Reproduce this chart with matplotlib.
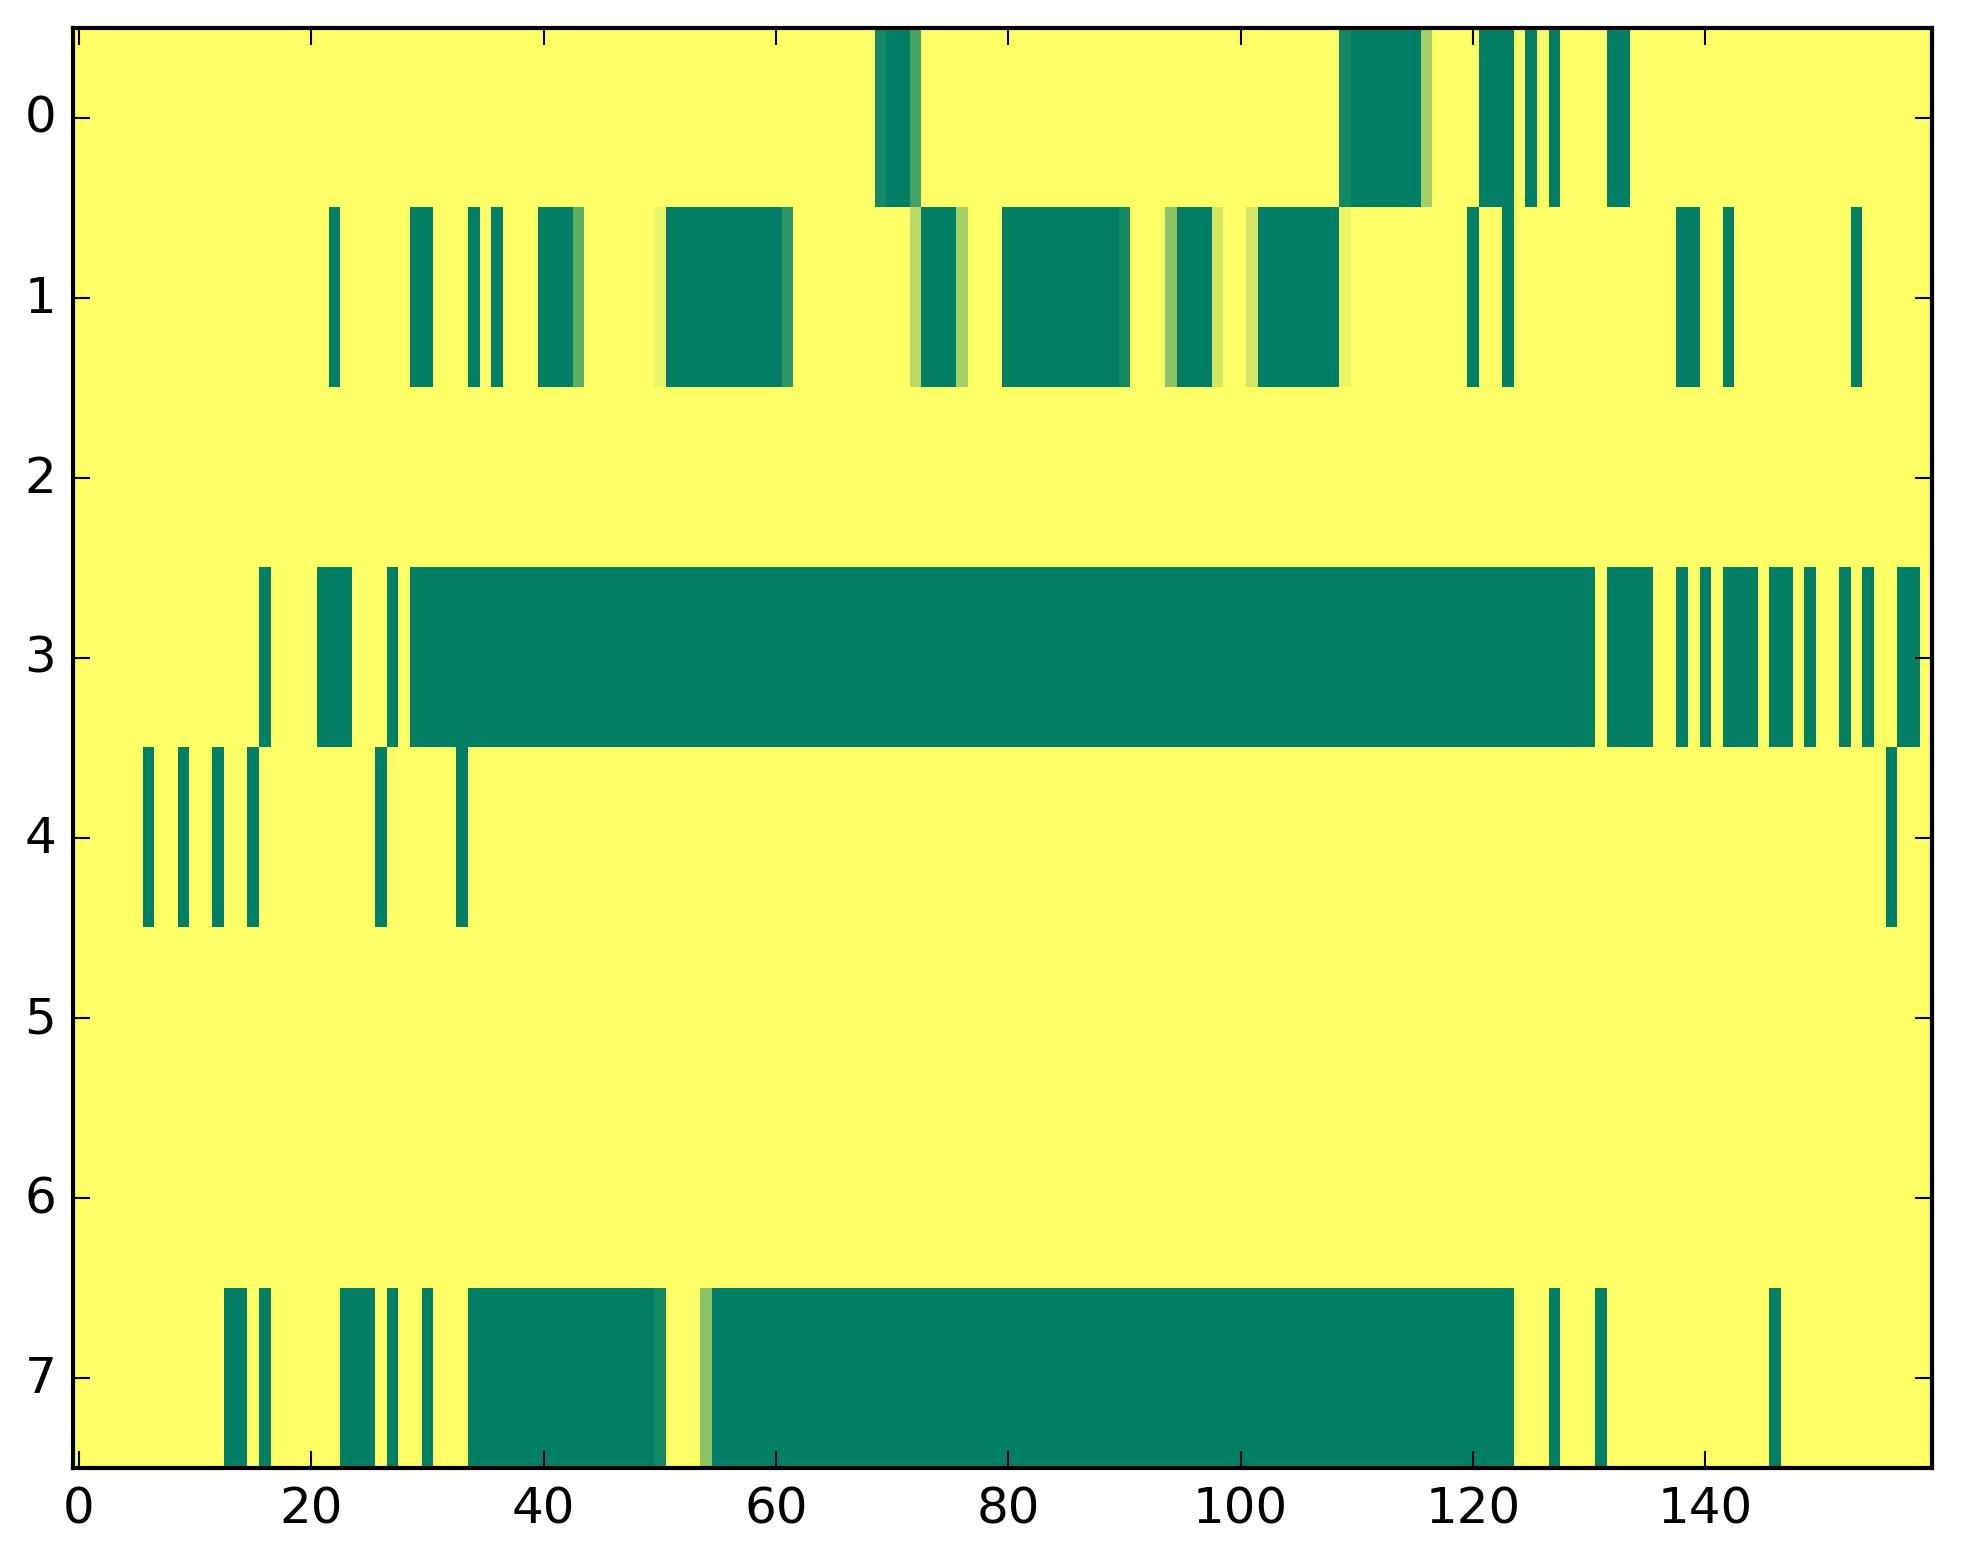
import numpy as np
import matplotlib
matplotlib.use('Agg')
import matplotlib.pyplot as plt

# grid is 8 rows x 160 columns, values between 0 and 1
n_rows = 8
n_cols = 160

# each run: (first column, last column, value); everything else is 0
row0_runs = [(69, 69, 0.92), (70, 71, 1.0), (72, 72, 0.73),
             (109, 109, 0.92), (110, 115, 1.0), (116, 116, 0.37),
             (121, 123, 1.0), (125, 125, 1.0), (127, 127, 1.0), (132, 133, 1.0)]
row1_runs = [(22, 22, 1.0), (29, 30, 1.0), (34, 34, 1.0), (36, 36, 1.0),
             (40, 42, 1.0), (43, 43, 0.64), (50, 50, 0.08), (51, 60, 1.0),
             (61, 61, 0.82), (72, 72, 0.27), (73, 75, 1.0), (76, 76, 0.37),
             (80, 89, 1.0), (90, 90, 0.92), (94, 94, 0.45), (95, 97, 1.0),
             (98, 98, 0.17), (101, 101, 0.17), (102, 108, 1.0), (109, 109, 0.08),
             (120, 120, 1.0), (123, 123, 1.0), (138, 139, 1.0), (142, 142, 1.0),
             (153, 153, 1.0)]
row2_runs = []
row3_runs = [(16, 16, 1.0), (21, 23, 1.0), (27, 27, 1.0), (29, 130, 1.0),
             (132, 135, 1.0), (138, 138, 1.0), (140, 140, 1.0), (142, 144, 1.0),
             (146, 147, 1.0), (149, 149, 1.0), (152, 152, 1.0), (154, 154, 1.0),
             (157, 158, 1.0)]
row4_runs = [(6, 6, 1.0), (9, 9, 1.0), (12, 12, 1.0), (15, 15, 1.0),
             (26, 26, 1.0), (33, 33, 1.0), (156, 156, 1.0)]
row5_runs = []
row6_runs = []
row7_runs = [(13, 14, 1.0), (16, 16, 1.0), (23, 25, 1.0), (27, 27, 1.0),
             (30, 30, 1.0), (34, 49, 1.0), (50, 50, 0.92), (54, 54, 0.45),
             (55, 123, 1.0), (127, 127, 1.0), (131, 131, 1.0), (146, 146, 1.0)]

all_runs = [row0_runs, row1_runs, row2_runs, row3_runs,
            row4_runs, row5_runs, row6_runs, row7_runs]

grid = np.zeros((n_rows, n_cols))
for r, runs in enumerate(all_runs):
    for first, last, val in runs:
        grid[r, first:last + 1] = val

plt.style.use('classic')
fig = plt.figure(figsize=(1963 / 300.0, 1564 / 300.0), dpi=300)
ax = fig.add_axes([0.0372, 0.0607, 0.9842 - 0.0372, 0.9815 - 0.0607])

ax.imshow(grid, cmap='summer_r', vmin=0, vmax=1, aspect='auto',
          interpolation='nearest')

ax.set_xticks([0, 20, 40, 60, 80, 100, 120, 140])
ax.set_yticks(range(n_rows))
ax.tick_params(labelsize=12)

fig.savefig('out.png', dpi=300)
